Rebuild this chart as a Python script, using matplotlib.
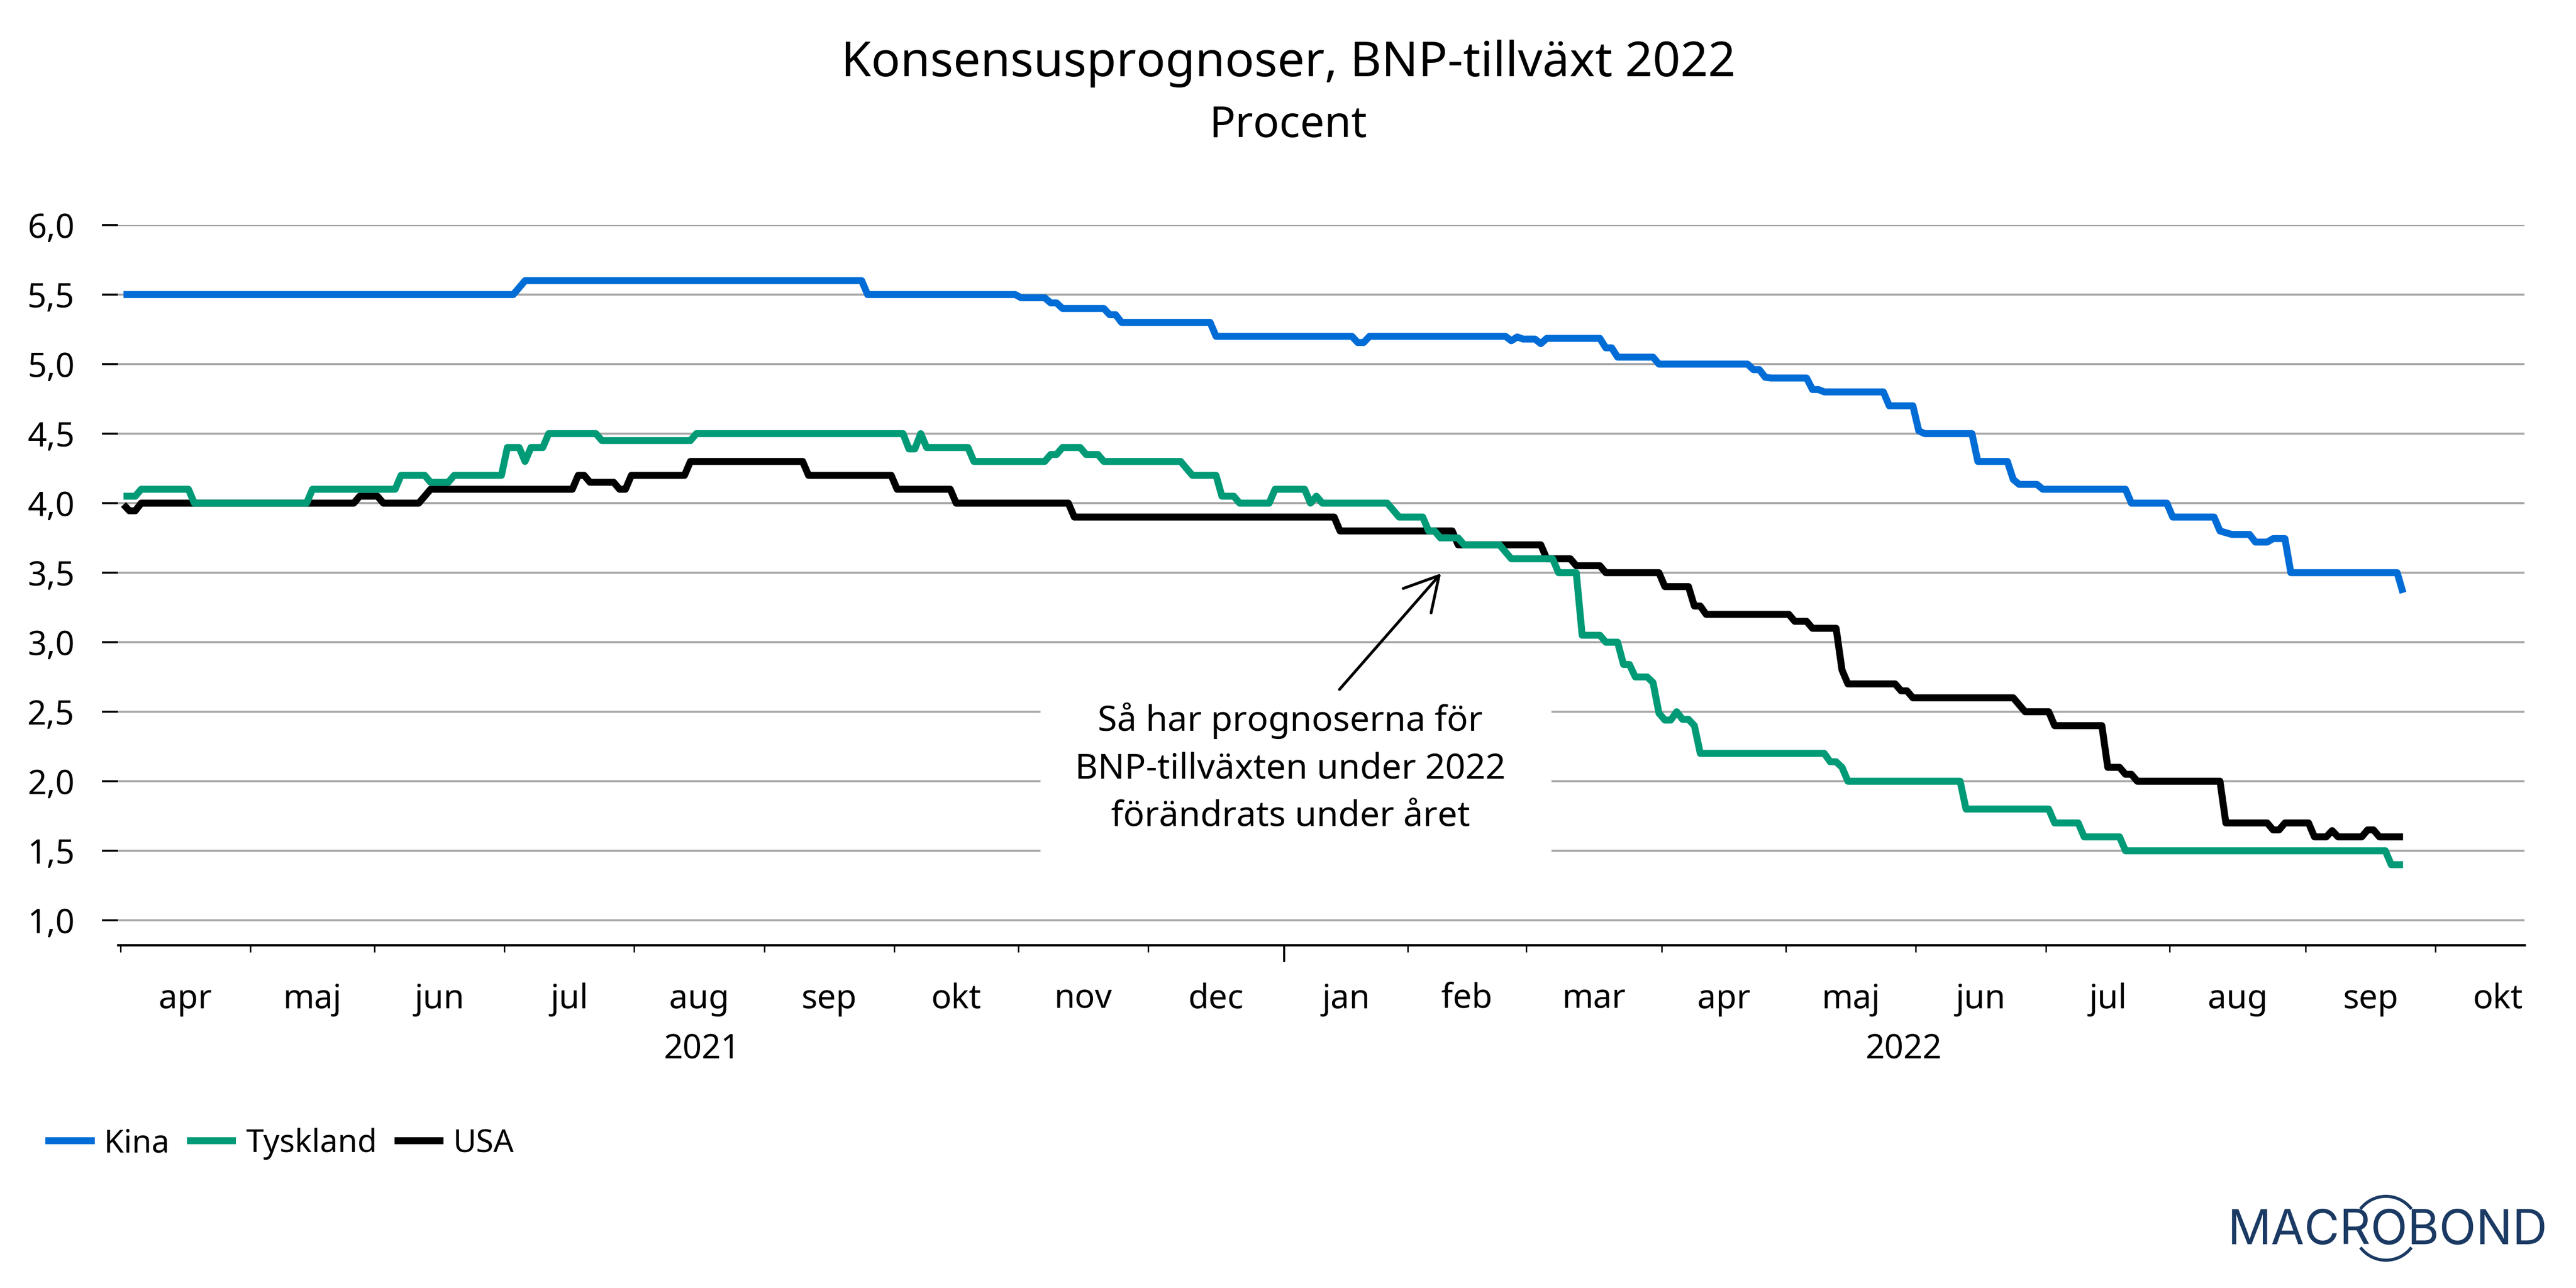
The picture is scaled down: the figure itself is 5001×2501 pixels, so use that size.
import matplotlib
matplotlib.use("Agg")
import matplotlib.pyplot as plt
from matplotlib.patches import Arc, Rectangle
from matplotlib.transforms import blended_transform_factory
import numpy as np

FONT = ['Noto Sans', 'DejaVu Sans']
plt.rcParams['font.family'] = FONT

W, H = 5001, 2501
DPI = 300

# ---- data (business days since 1 Apr 2021, percent) ----
kina_day = [0,66,67,68,125,126,151,152,156,157,158,159,166,167,168,169,184,185,208,209,210,211,234,235,236,237,239,240,241,250,251,252,253,259,260,275,276,277,278,279,285,286,287,288,298,299,303,304,305,313,314,319,320,321,324,325,339,340,346,347,354,355,357,360,361,363,364,366,367,385,386]
kina_val = [5.5,5.5,5.55,5.6,5.6,5.5,5.5,5.477,5.477,5.44,5.44,5.4,5.4,5.355,5.355,5.3,5.3,5.2,5.2,5.155,5.155,5.2,5.2,5.168,5.195,5.18,5.18,5.147,5.185,5.185,5.117,5.117,5.05,5.05,5.0,5.0,4.96,4.96,4.905,4.9,4.9,4.817,4.817,4.8,4.8,4.7,4.7,4.52,4.5,4.5,4.3,4.3,4.17,4.135,4.135,4.1,4.1,4.0,4.0,3.9,3.9,3.8,3.775,3.775,3.72,3.72,3.745,3.745,3.5,3.5,3.355]

tyskland_day = [0,2,3,11,12,31,32,46,47,51,52,55,56,64,65,67,68,69,71,72,80,81,96,97,132,133,134,135,136,143,144,156,157,158,159,162,163,165,166,179,180,181,185,186,188,189,194,195,200,201,202,203,214,215,216,220,221,222,223,226,227,233,234,235,242,243,246,247,250,251,253,254,255,256,258,259,260,261,262,263,264,265,266,267,288,289,290,291,292,311,312,326,327,331,332,338,339,383,384,386]
tyskland_val = [4.05,4.05,4.1,4.1,4.0,4.0,4.1,4.1,4.2,4.2,4.15,4.15,4.2,4.2,4.4,4.4,4.3,4.4,4.4,4.5,4.5,4.45,4.45,4.5,4.5,4.39,4.39,4.5,4.4,4.4,4.3,4.3,4.35,4.35,4.4,4.4,4.35,4.35,4.3,4.3,4.25,4.2,4.2,4.05,4.05,4.0,4.0,4.1,4.1,4.0,4.05,4.0,4.0,3.95,3.9,3.9,3.8,3.8,3.75,3.75,3.7,3.7,3.65,3.6,3.6,3.5,3.5,3.05,3.05,3.0,3.0,2.84,2.84,2.75,2.75,2.71,2.49,2.44,2.44,2.5,2.445,2.445,2.4,2.2,2.2,2.14,2.14,2.1,2.0,2.0,1.8,1.8,1.7,1.7,1.6,1.6,1.5,1.5,1.4,1.4]

usa_day = [0,1,2,3,39,40,43,44,50,51,52,76,77,78,79,83,84,85,86,95,96,115,116,130,131,140,141,160,161,205,206,225,226,240,241,245,246,250,251,260,261,265,266,267,268,282,283,285,286,290,291,292,300,301,302,303,320,321,322,326,327,335,336,338,339,340,341,355,356,363,364,365,366,370,371,373,374,375,379,380,381,382,386]
usa_val = [3.99,3.945,3.945,4.0,4.0,4.05,4.05,4.0,4.0,4.05,4.1,4.1,4.2,4.2,4.15,4.15,4.1,4.1,4.2,4.2,4.3,4.3,4.2,4.2,4.1,4.1,4.0,4.0,3.9,3.9,3.8,3.8,3.7,3.7,3.6,3.6,3.55,3.55,3.5,3.5,3.4,3.4,3.26,3.26,3.2,3.2,3.15,3.15,3.1,3.1,2.8,2.7,2.7,2.65,2.65,2.6,2.6,2.55,2.5,2.5,2.4,2.4,2.1,2.1,2.05,2.05,2.0,2.0,1.7,1.7,1.65,1.65,1.7,1.7,1.6,1.6,1.645,1.6,1.6,1.65,1.65,1.6,1.6]

month_labels = ['apr','maj','jun','jul','aug','sep','okt','nov','dec','jan','feb','mar','apr','maj','jun','jul','aug','sep','okt']
month_lengths = [22,21,22,22,22,22,21,22,23,21,20,23,21,22,22,21,23,22,21]
y_ticks = [1.0,1.5,2.0,2.5,3.0,3.5,4.0,4.5,5.0,5.5,6.0]
COL_KINA, COL_TYSK, COL_USA = '#006CD6', '#009A77', '#000000'

# ---- helpers ----
def pt(px):
    return px * 72 / DPI
def fx(px):
    return px / W
def fy(py):
    return 1 - py / H

fig = plt.figure(figsize=(W / DPI, H / DPI), dpi=DPI, facecolor='white')
L, R, T, B = 229, 4901, 437, 1835
ax = fig.add_axes([fx(L), fy(B), (R - L) / W, (B - T) / H])
PX_DAY = 11.465
ax.set_xlim((L - 234) / PX_DAY, (R - 234) / PX_DAY)
ax.set_ylim(6 - (B - T) / 270, 6.0)

# grid
ax.set_yticks(y_ticks)
ax.set_yticklabels([f'{v:.1f}'.replace('.', ',') for v in y_ticks])
ax.grid(axis='y', color='#a6a6a6', lw=pt(4), zorder=1)
ax.set_axisbelow(True)
ax.tick_params(axis='y', length=pt(31), width=pt(4), pad=pt(53), labelsize=15.6, color='black')
for t in ax.get_yticklabels():
    t.set_verticalalignment('center_baseline')
for s in ['top', 'left', 'right']:
    ax.spines[s].set_visible(False)
ax.spines['bottom'].set_linewidth(pt(4.5))

# months
starts = np.concatenate([[0], np.cumsum(month_lengths)])
mids = (starts[:-1] + starts[1:]) / 2
ticks = [int(s) for s in starts[:-1] if s != 197]
ax.set_xticks(ticks)
ax.set_xticklabels([])
ax.tick_params(axis='x', which='major', length=pt(14), width=pt(2.8))
ax.set_xticks(mids, month_labels, minor=True)
ax.tick_params(axis='x', which='minor', length=0, pad=pt(123), labelsize=15.6)
for t in ax.get_xticklabels(minor=True):
    t.set_verticalalignment('baseline')
ax.set_xlim((L - 234) / PX_DAY, (R - 234) / PX_DAY)
yr = blended_transform_factory(ax.transData, ax.transAxes)
ax.plot([197, 197], [0, -33 / (B - T)], transform=yr, color='black', lw=pt(4), clip_on=False, solid_capstyle='butt', zorder=3)
yr_fig = blended_transform_factory(ax.transData, fig.transFigure)
ax.text(98.5, fy(2055), '2021', transform=yr_fig, ha='center', va='baseline', fontsize=15.6)
ax.text(302, fy(2055), '2022', transform=yr_fig, ha='center', va='baseline', fontsize=15.6)

# white box behind the note
ax.add_patch(Rectangle(((2020 - 234) / PX_DAY, 1.3), (3012 - 2020) / PX_DAY, 1.4, facecolor='white', edgecolor='none', zorder=1.5))

# series
kw = dict(lw=pt(13.5), solid_capstyle='butt', solid_joinstyle='round')
l_k, = ax.plot(np.array(kina_day) + 0.5, kina_val, color=COL_KINA, zorder=6, label='Kina', **kw)
l_t, = ax.plot(np.array(tyskland_day) + 0.5, tyskland_val, color=COL_TYSK, zorder=5, label='Tyskland', **kw)
l_u, = ax.plot(np.array(usa_day) + 0.5, usa_val, color=COL_USA, zorder=4, label='USA', **kw)

# annotation
ax.annotate('', xy=(223.6, 3.495), xytext=(206.4, 2.66),
            arrowprops=dict(arrowstyle='->,head_length=0.9,head_width=0.5', lw=pt(5.5), color='black',
                            shrinkA=0, shrinkB=0, mutation_scale=pt(72)), zorder=7)
ax.text((2505 - 234) / PX_DAY, 6 - (1492 - 437) / 270, 'Så har prognoserna för\nBNP-tillväxten under 2022\nförändrats under året',
        ha='center', va='center', fontsize=16.4, linespacing=1.47, zorder=7)

# titles
fig.text(fx(2501), fy(148), 'Konsensusprognoser, BNP-tillväxt 2022', ha='center', va='baseline', fontsize=22.5)
fig.text(fx(2501), fy(266), 'Procent', ha='center', va='baseline', fontsize=20.2)

# legend
leg = fig.legend(handles=[l_k, l_t, l_u], loc='lower left', bbox_to_anchor=(fx(88), fy(2252)), ncol=3, frameon=False,
                 fontsize=14.8, handlelength=1.55, handletextpad=0.3, columnspacing=0.55, borderpad=0, borderaxespad=0)

# logo
NAVY = '#1B3A63'
fig.text(fx(4325), fy(2416), 'MACROBOND', ha='left', va='baseline', color=NAVY, fontsize=22.5,
         family=['Inter', 'DejaVu Sans'])
logo_t = fig.dpi_scale_trans
for a, b in [(37, 143), (217, 323)]:
    fig.add_artist(Arc((4632 / DPI, (H - 2385) / DPI), 124 / DPI, 124 / DPI, theta1=a, theta2=b,
                       transform=logo_t, color=NAVY, lw=pt(6)))

fig.savefig('out.png', dpi=DPI, facecolor='white')
